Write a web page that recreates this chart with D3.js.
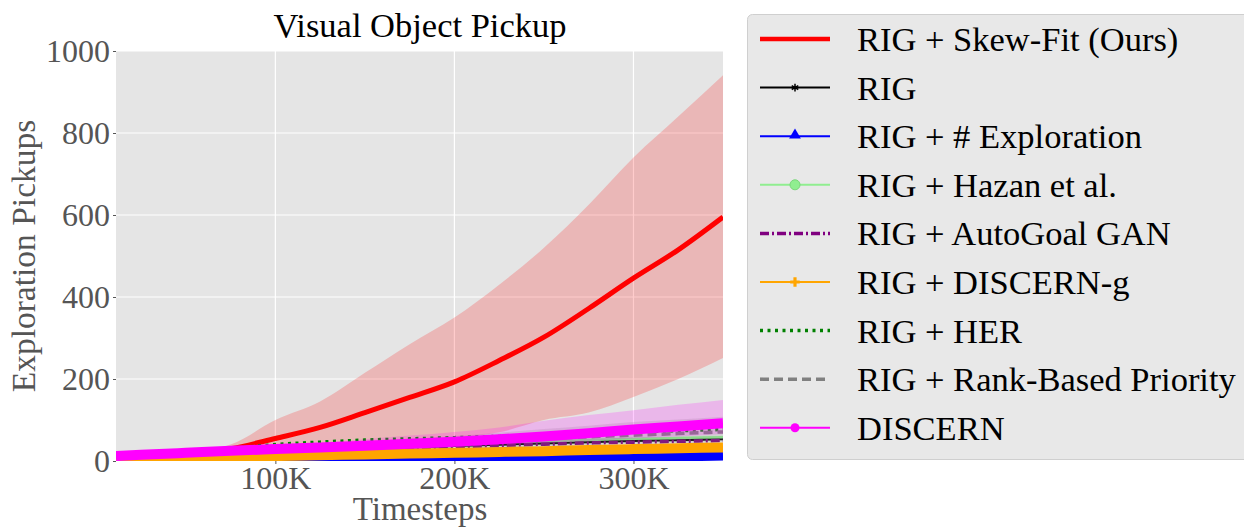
<!DOCTYPE html>
<meta charset="utf-8">
<style>
body { margin: 0; background: #fff; }
svg { font-family: "Liberation Serif", "DejaVu Serif", serif; }
.grid line { stroke: #fff; stroke-width: 1.2px; }
.axis path { display: none; }
.axis line { stroke: #555; }
.axis text { fill: #555; font-size: 32px; font-family: "Liberation Serif", serif; }
.leg text { font-size: 34.5px; fill: #000; }
</style>
<svg width="1244" height="527"></svg>
<script src="https://cdn.jsdelivr.net/npm/d3@7"></script>
<script>

// timesteps (x values)
var steps = [11000, 25000, 50000, 75000, 100000, 125000, 150000, 175000, 200000, 225000, 250000, 275000, 300000, 325000, 350000];

// series means
var skewFit   = [10, 13, 18, 30, 55, 82, 118, 155, 193, 245, 302, 372, 446, 515, 595];
var rig       = [9, 11, 15, 19, 23, 27, 31, 34, 38, 41, 44, 47, 50, 52, 54];
var countExpl = [0, 0, 0, 1, 1, 2, 2, 3, 4, 5, 6, 7, 9, 10, 12];
var hazan     = [10, 12, 16, 21, 26, 30, 34, 38, 41, 45, 48, 51, 54, 56, 58];
var autoGoal  = [9, 11, 14, 17, 21, 25, 29, 32, 35, 38, 41, 44, 46, 48, 50];
var discernG  = [4, 5, 8, 10, 12, 14, 16, 18, 20, 22, 24, 27, 29, 31, 33];
var her       = [11, 14, 20, 30, 40, 46, 51, 54, 57, 60, 64, 68, 71, 74, 77];
var rank      = [10, 13, 18, 22, 27, 31, 36, 40, 44, 49, 54, 59, 63, 67, 71];
var discern   = [12, 15, 20, 25, 29, 33, 37, 42, 47, 53, 60, 68, 77, 84, 92];

// shaded bands (upper / lower)
var skewFitHi = [12, 15, 21, 40, 100, 145, 215, 285, 350, 430, 520, 625, 740, 840, 941];
var skewFitLo = [8, 11, 15, 22, 28, 34, 40, 46, 55, 70, 100, 118, 156, 200, 251];
var rankHi    = [11, 14, 20, 26, 33, 40, 47, 54, 61, 69, 78, 86, 95, 101, 108];
var rankLo    = [9, 11, 15, 18, 21, 23, 26, 28, 31, 33, 36, 39, 42, 44, 47];
var discernHi = [14, 18, 24, 30, 38, 45, 53, 62, 71, 82, 98, 112, 124, 137, 149];
var discernLo = [10, 12, 16, 20, 22, 25, 28, 31, 35, 39, 44, 49, 55, 60, 66];

var xTicks = [100000, 200000, 300000];
var yTicks = [0, 200, 400, 600, 800, 1000];

var labels = ["RIG + Skew-Fit (Ours)", "RIG", "RIG + # Exploration", "RIG + Hazan et al.",
  "RIG + AutoGoal GAN", "RIG + DISCERN-g", "RIG + HER", "RIG + Rank-Based Priority", "DISCERN"];

var series = [
  {name: labels[0], v: skewFit, hi: skewFitHi, lo: skewFitLo, color: "#ff0000", w: 5, lw: 4.5, dash: null, marker: null},
  {name: labels[1], v: rig, color: "#000000", w: 3, lw: 2, dash: null, marker: "star"},
  {name: labels[2], v: countExpl, color: "#0000ff", w: 9, lw: 2, dash: null, marker: "triangle"},
  {name: labels[3], v: hazan, color: "#90ee90", w: 2.5, lw: 2, dash: null, marker: "ring"},
  {name: labels[4], v: autoGoal, color: "#800080", w: 3.5, lw: 3.5, dash: "9,3,2,3", marker: null},
  {name: labels[5], v: discernG, color: "#ffa500", w: 10, lw: 2, dash: null, marker: "plus"},
  {name: labels[6], v: her, color: "#008000", w: 3.5, lw: 3.5, dash: "3,4.5", marker: null},
  {name: labels[7], v: rank, hi: rankHi, lo: rankLo, color: "#808080", w: 3.5, lw: 3.5, dash: "9,5", marker: null},
  {name: labels[8], v: discern, hi: discernHi, lo: discernLo, color: "#ff00ff", w: 10, lw: 2, dash: null, marker: "dot"}
];

var svg = d3.select("svg");
var x = d3.scaleLinear().domain([11000, 350000]).range([116, 723]);
var y = d3.scaleLinear().domain([0, 1000]).range([461, 51]);

svg.append("defs").append("clipPath").attr("id", "clip")
  .append("rect").attr("x", 116).attr("y", 51).attr("width", 607).attr("height", 410);

svg.append("rect")
    .attr("x", 116).attr("y", 51).attr("width", 607).attr("height", 410)
    .attr("fill", "#e5e5e5");

var grid = svg.append("g").attr("class", "grid");
grid.selectAll(".gx").data(xTicks).enter().append("line")
    .attr("x1", function(d) { return x(d); }).attr("x2", function(d) { return x(d); })
    .attr("y1", 51).attr("y2", 461);
grid.selectAll(".gy").data(yTicks).enter().append("line")
    .attr("x1", 116).attr("x2", 723)
    .attr("y1", function(d) { return y(d); }).attr("y2", function(d) { return y(d); });

var plot = svg.append("g").attr("clip-path", "url(#clip)");

var line = d3.line().x(function(d, i) { return x(steps[i]); }).y(function(d) { return y(d); })
    .curve(d3.curveMonotoneX);
var area = d3.area()
    .x(function(d) { return x(d.s); })
    .y0(function(d) { return y(d.lo); })
    .y1(function(d) { return y(d.hi); })
    .curve(d3.curveMonotoneX);

series.forEach(function(s) {
  if (s.hi) {
    plot.append("path")
        .datum(steps.map(function(t, i) { return {s: t, hi: s.hi[i], lo: s.lo[i]}; }))
        .attr("d", area)
        .attr("fill", s.color)
        .attr("fill-opacity", 0.2);
  }
  plot.append("path")
      .datum(s.v)
      .attr("d", line)
      .attr("fill", "none")
      .attr("stroke", s.color)
      .attr("stroke-width", s.w)
      .attr("stroke-dasharray", s.dash);
});

svg.append("g")
    .attr("class", "axis")
    .attr("transform", "translate(0,461)")
    .call(d3.axisBottom(x).tickValues(xTicks).tickSize(3).tickPadding(2)
      .tickFormat(function(d) { return d / 1000 + "K"; }));

svg.append("g")
    .attr("class", "axis")
    .attr("transform", "translate(116,0)")
    .call(d3.axisLeft(y).tickValues(yTicks).tickSize(3).tickPadding(3)
      .tickFormat(d3.format("d")));

svg.append("text")
    .attr("x", 420).attr("y", 37)
    .attr("text-anchor", "middle")
    .attr("font-size", 34.5)
    .attr("fill", "#000")
    .text("Visual Object Pickup");

svg.append("text")
    .attr("x", 420).attr("y", 519.5)
    .attr("text-anchor", "middle")
    .attr("font-size", 33)
    .attr("fill", "#555")
    .text("Timesteps");

svg.append("text")
    .attr("transform", "translate(35,256) rotate(-90)")
    .attr("text-anchor", "middle")
    .attr("font-size", 33.5)
    .attr("fill", "#555")
    .text("Exploration Pickups");

// legend
var leg = svg.append("g").attr("class", "leg");
leg.append("rect")
    .attr("x", 747.5).attr("y", 14.5).attr("width", 520).attr("height", 445)
    .attr("rx", 5)
    .attr("fill", "#e8e8e8")
    .attr("stroke", "#cfcfcf");

var row = leg.selectAll(".row").data(series).enter().append("g")
    .attr("transform", function(d, i) { return "translate(0," + (39 + i * 48.6) + ")"; });

row.append("line")
    .attr("x1", 760).attr("x2", 830).attr("y1", 0).attr("y2", 0)
    .attr("stroke", function(d) { return d.color; })
    .attr("stroke-width", function(d) { return d.lw; })
    .attr("stroke-dasharray", function(d) { return d.dash; });

row.each(function(d) {
  var g = d3.select(this), cx = 795;
  if (d.marker === "star") {
    g.append("path").attr("d", d3.symbol(d3.symbolAsterisk, 40)()).attr("transform", "translate(" + cx + ",0)")
      .attr("stroke", d.color).attr("stroke-width", 1.5).attr("fill", "none");
  } else if (d.marker === "triangle") {
    g.append("path").attr("d", d3.symbol(d3.symbolTriangle, 60)()).attr("transform", "translate(" + cx + ",-1)")
      .attr("fill", d.color);
  } else if (d.marker === "ring") {
    g.append("circle").attr("cx", cx).attr("cy", 0).attr("r", 5)
      .attr("fill", d.color).attr("stroke", "#7ad77a").attr("stroke-width", 1);
  } else if (d.marker === "plus") {
    g.append("path").attr("d", d3.symbol(d3.symbolCross, 50)()).attr("transform", "translate(" + cx + ",0)")
      .attr("fill", d.color);
  } else if (d.marker === "dot") {
    g.append("circle").attr("cx", cx).attr("cy", 0).attr("r", 4.5).attr("fill", d.color);
  }
});

row.append("text")
    .attr("x", 857).attr("y", 12)
    .text(function(d) { return d.name; });

</script>
